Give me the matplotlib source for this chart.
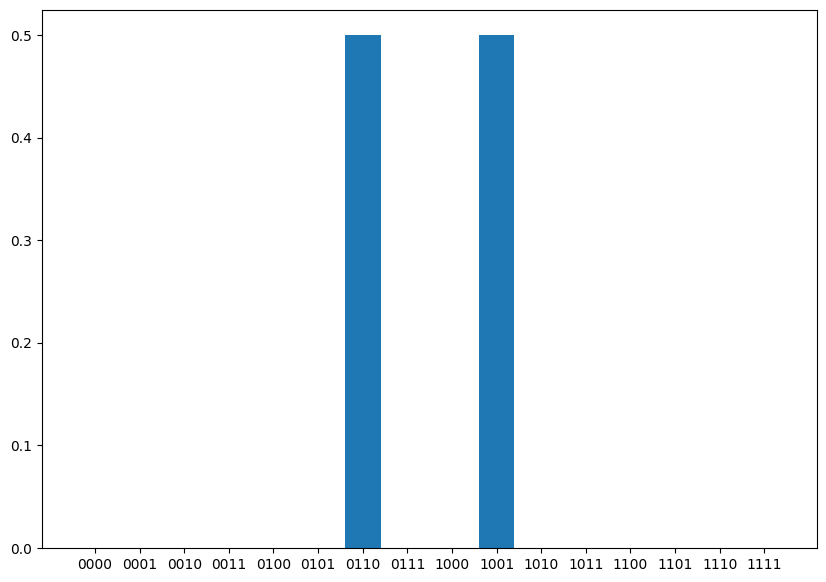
import matplotlib
matplotlib.use("Agg")
import matplotlib.pyplot as plt

states = ["0000", "0001", "0010", "0011", "0100", "0101", "0110", "0111",
          "1000", "1001", "1010", "1011", "1100", "1101", "1110", "1111"]
probs = [0, 0, 0, 0, 0, 0, 0.5, 0, 0, 0.5, 0, 0, 0, 0, 0, 0]

fig = plt.figure(figsize=(8.26, 5.82), dpi=100)
ax = fig.add_axes([0.0508, 0.0584, 0.9387, 0.9249])
ax.bar(states, probs)
fig.savefig("out.png", dpi=100)
